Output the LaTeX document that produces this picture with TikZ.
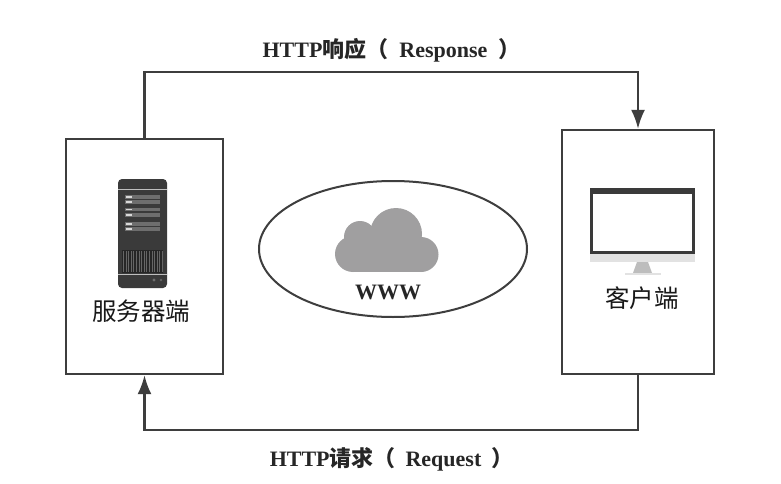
\documentclass[tikz,border=0pt]{standalone}
\usepackage{fontspec}
\setmainfont{Liberation Serif}
\newfontfamily\cjk{Noto Sans CJK SC}
\usetikzlibrary{arrows.meta,shapes.geometric}
\definecolor{linec}{HTML}{3E3E3E}
\definecolor{darkc}{HTML}{3A3A3A}
\definecolor{barc}{HTML}{6E6E6E}
\definecolor{cloudc}{HTML}{A09FA0}
\definecolor{chinc}{HTML}{E2E2E2}
\definecolor{standc}{HTML}{BDBDBD}
\tikzset{
  boxed/.style={draw=linec,line width=2.4pt,fill=white,minimum width=#1,inner sep=0pt},
  flow/.style={draw=linec,line width=2.2pt,-{Latex[length=19pt,width=14pt]}},
  cjklabel/.style={font=\cjk\fontsize{24.5}{27}\selectfont,text=black!90,inner sep=0pt},
  latlabel/.style={font=\fontsize{22}{25}\selectfont\bfseries,text=black!85,inner sep=0pt},
  serverbar/.style={fill=barc,draw=none},
  serverled/.style={fill=white!85!black,draw=none},
}
\begin{document}
\begin{tikzpicture}[x=1pt,y=-1pt]
\useasboundingbox (0,0) rectangle (781,484);
\fill[white] (0,0) rectangle (781,484);
\node[boxed=157pt,minimum height=235pt] (srv) at (144.5,256.5) {};
\node[boxed=152pt,minimum height=244pt] (cli) at (638,252) {};
\node[draw=linec,line width=2pt,fill=white,shape=ellipse,minimum width=268pt,minimum height=136pt,inner sep=0pt] (www) at (393,249) {};
\draw[flow] (srv.north) -- ++(0,-65.5) -| (cli.north);
\draw[flow] (cli.south) -- ++(0,55) -| (srv.south);
\node[latlabel] (top) at (391.5,50) {HTTP{\cjk 响应}{\cjk （}\hspace{0.5em}Response\hspace{0.5em}{\cjk ）}};
\node[latlabel] (bot) at (391.5,459) {HTTP{\cjk 请求}{\cjk （}\hspace{0.45em}Request\hspace{0.45em}{\cjk ）}};
% server
\fill[darkc,rounded corners=4pt] (118,179) rectangle (167,288);
\fill[white!75!black] (118,188.5) rectangle (167,189.5);
\fill[white!75!black] (118,274) rectangle (167,275);
\foreach \y in {197,202,209.5,215,224,229} {
  \fill[serverbar] (125,\y-1.8) rectangle (160,\y+1.8);
  \fill[serverled] (125.5,\y-0.9) rectangle (132,\y+0.9);
}
\fill[black!85] (122,250) rectangle (163,273);
\foreach \x in {123,125.6,...,163} { \fill[black!60] (\x,251) rectangle (\x+0.7,272); }
\fill[barc] (154,280) circle (1.6);
\fill[black!60] (161,280) circle (1.4);
% monitor
\fill[chinc] (590,254) rectangle (695,262);
\fill[standc] (637,262) -- (648,262) -- (652,273) -- (633,273) -- cycle;
\fill[chinc] (625,273) rectangle (661,275);
\draw[darkc,line width=3pt,fill=white] (591.5,190) rectangle (693.5,252.5);
\fill[darkc] (590,188) rectangle (695,193.5);
% cloud
\fill[cloudc] (396,234) circle (26);
\fill[cloudc] (360,237) circle (16);
\fill[cloudc] (353,254) circle (18);
\fill[cloudc] (421,254.5) circle (17.5);
\fill[cloudc] (353,240) rectangle (421,272);
\node[cjklabel] (srvt) at (141,311) {服务器端};
\node[cjklabel] (clit) at (642,298) {客户端};
\node[latlabel] (wwwt) at (388,292) {WWW};
\end{tikzpicture}
\end{document}
